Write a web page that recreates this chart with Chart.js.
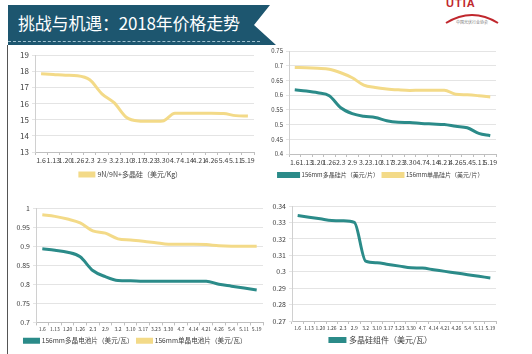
<!DOCTYPE html>
<html>
<head>
<meta charset="utf-8">
<script src="https://cdn.jsdelivr.net/npm/chart.js@4.4.1/dist/chart.umd.min.js"></script>
<style>
  html, body { margin: 0; padding: 0; background: #fff; }
  body { width: 532px; height: 354px; position: relative; overflow: hidden; font-family: "Noto Sans CJK SC", sans-serif; }
  .box { position: absolute; }
  #banner { position: absolute; left: 8px; top: 5px; width: 268px; height: 40px; background: #1d566f;
    clip-path: polygon(0 0, 262px 0, 246px 20px, 268px 40px, 0 40px); }
  #bannerDash { position: absolute; left: 8px; top: 41px; width: 252px; border-top: 1px dashed #9fc0cf; }
  #title { position: absolute; left: 18px; top: 12px; color: #fff; font-size: 17px; line-height: 22px; letter-spacing: -0.2px; }
  #leftLine { position: absolute; left: 7px; top: 45px; width: 1px; height: 309px; background: #555; }
  #logo { position: absolute; left: 446px; top: -3px; color: #c0272d; font: bold 11px "Liberation Sans", sans-serif; letter-spacing: 1px; }
  #arc { position: absolute; left: 444px; top: 9px; }
</style>
</head>
<body>
<div id="banner"></div>
<div id="bannerDash"></div>
<div id="title">挑战与机遇：2018年价格走势</div>
<div id="leftLine"></div>
<div id="logo">UTIA</div>
<svg id="arc" width="56" height="18">
  <path d="M2 14 Q28 -2 54 14" stroke="#c0272d" stroke-width="2" fill="none"/>
  <text x="28" y="15" font-size="4" fill="#777" text-anchor="middle">中国光伏行业协会</text>
</svg>

<div class="box" style="left:8px;top:46px;width:258px;height:142px"><canvas id="m1"></canvas></div>
<div class="box" style="left:266px;top:44px;width:258px;height:144px"><canvas id="m2"></canvas></div>
<div class="box" style="left:8px;top:196px;width:258px;height:158px"><canvas id="m3"></canvas></div>
<div class="box" style="left:266px;top:196px;width:258px;height:158px"><canvas id="m4"></canvas></div>

<script>
// dates on the x axis (2018)
var dates = ['1.6','1.13','1.20','1.26','2.3','2.9','3.2','3.10','3.17','3.23','3.30','4.7','4.14','4.21','4.26','5.4','5.11','5.19'];

// 9N/9N+ polysilicon, USD/kg
var polysilicon = [17.84,17.8,17.75,17.72,17.47,16.6,16.05,15.15,14.92,14.9,14.92,15.4,15.4,15.4,15.4,15.38,15.25,15.22];
// 156mm wafers, USD/piece
var multiWafer = [0.618,0.614,0.608,0.598,0.557,0.537,0.528,0.524,0.513,0.508,0.507,0.504,0.502,0.5,0.494,0.489,0.47,0.462];
var monoWafer = [0.694,0.693,0.691,0.688,0.676,0.659,0.634,0.626,0.621,0.618,0.616,0.617,0.617,0.617,0.603,0.601,0.598,0.594];
// 156mm cells, USD/W
var multiCell = [0.893,0.889,0.884,0.872,0.836,0.82,0.81,0.809,0.808,0.808,0.808,0.808,0.808,0.808,0.8,0.795,0.79,0.785];
var monoCell = [0.982,0.978,0.971,0.961,0.94,0.934,0.919,0.916,0.913,0.909,0.905,0.905,0.905,0.904,0.901,0.9,0.9,0.9];
// multi modules, USD/W
var multiModule = [0.3342,0.3332,0.3322,0.3312,0.331,0.330,0.3064,0.3054,0.3044,0.3034,0.3024,0.3022,0.3012,0.3002,0.2992,0.2982,0.2972,0.2962];

var teal = '#2b8b89';
var gold = '#f3da88';
var txt = '#404040';
var fam = '"Noto Sans CJK SC", sans-serif';

function ds(label, data, color) {
  return { label: label, data: data, borderColor: color, backgroundColor: color,
    borderWidth: 3, pointRadius: 0, cubicInterpolationMode: 'monotone', fill: false };
}

function makeChart(id, datasets, y, o) {
  var ctx = document.getElementById(id).getContext('2d');
  return new Chart(ctx, {
    type: 'line',
    data: { labels: dates, datasets: datasets },
    options: {
      responsive: true,
      maintainAspectRatio: false,
      animation: false,
      layout: { padding: o.pad },
      plugins: {
        legend: {
          position: 'bottom',
          labels: { boxWidth: o.boxW, boxHeight: 3, padding: 4, color: txt,
            font: { family: fam, size: o.legendSize } }
        },
        tooltip: { enabled: false }
      },
      scales: {
        x: {
          offset: true,
          grid: { offset: true, drawOnChartArea: false, tickLength: 3, color: '#bfbfbf' },
          border: { color: '#bfbfbf' },
          ticks: { autoSkip: false, maxRotation: 0, minRotation: 0, padding: 1, color: txt,
            font: { family: fam, size: o.xSize } },
          afterFit: function(s) { s.height = o.xH; }
        },
        y: {
          min: y.min, max: y.max,
          grid: { color: '#e4e4e4', tickLength: 3 },
          border: { color: '#d0d0d0' },
          ticks: { stepSize: y.step, padding: 3, color: txt, font: { family: fam, size: o.ySize },
            callback: function(v) { return String(Number(v.toFixed(2))); } },
          afterFit: function(s) { s.width = o.yW; }
        }
      }
    }
  });
}

//polysilicon
var chart1 = makeChart('m1', [ds('9N/9N+多晶硅（美元/Kg）', polysilicon, gold)],
  { min: 13, max: 19, step: 1 },
  { pad: { left: 0, right: 12, top: 9, bottom: 0 }, boxW: 14, legendSize: 7, xSize: 7, ySize: 8, xH: 15, yW: 27 });

//wafers
var chart2 = makeChart('m2', [ds('156mm多晶硅片（美元/片）', multiWafer, teal), ds('156mm单晶硅片（美元/片）', monoWafer, gold)],
  { min: 0.4, max: 0.75, step: 0.05 },
  { pad: { left: 0, right: 28, top: 7, bottom: 0 }, boxW: 20, legendSize: 6, xSize: 7, ySize: 6, xH: 14, yW: 23 });

//cells
var chart3 = makeChart('m3', [ds('156mm多晶电池片（美元/瓦）', multiCell, teal), ds('156mm单晶电池片（美元/瓦）', monoCell, gold)],
  { min: 0.7, max: 1, step: 0.05 },
  { pad: { left: 0, right: 3, top: 12, bottom: 0 }, boxW: 14, legendSize: 6.6, xSize: 5, ySize: 7, xH: 11, yW: 28 });

//modules
var chart4 = makeChart('m4', [ds('多晶硅组件（美元/瓦）', multiModule, teal)],
  { min: 0.27, max: 0.34, step: 0.01 },
  { pad: { left: 0, right: 28, top: 10, bottom: 0 }, boxW: 15, legendSize: 8, xSize: 5, ySize: 7, xH: 11, yW: 26 });
</script>
</body>
</html>
